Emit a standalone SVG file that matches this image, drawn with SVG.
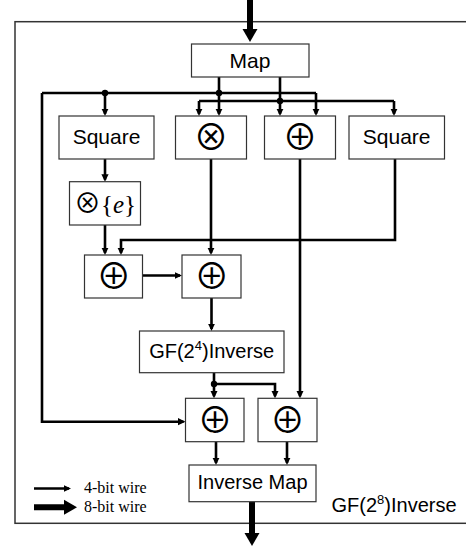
<svg xmlns="http://www.w3.org/2000/svg" width="466" height="552" viewBox="0 0 466 552">
<defs>
<style>
.box{fill:#fff;stroke:#333;stroke-width:1.2}
.t{font-family:"Liberation Sans",Arial,sans-serif;font-size:21px;fill:#000;text-anchor:middle}
.t2{font-size:20px}
.sym{font-family:"Noto Sans CJK SC","DejaVu Sans",sans-serif;font-size:35px;fill:#000;text-anchor:middle}
.w{fill:none;stroke:#000;stroke-width:2.6}
.wa{fill:none;stroke:#000;stroke-width:2.6;marker-end:url(#ah)}
.big{fill:none;stroke:#000;stroke-width:6;marker-end:url(#bh)}
.dot{fill:#000}
.leg{font-family:"Liberation Serif","Times New Roman",serif;font-size:16px;fill:#000}
</style>
<marker id="ah" markerUnits="userSpaceOnUse" markerWidth="8" markerHeight="8" viewBox="0 0 8 8" refX="5.5" refY="4" orient="auto">
<path d="M0,0.4 L7.5,4 L0,7.6 z" fill="#000"/>
</marker>
<marker id="bh" markerUnits="userSpaceOnUse" markerWidth="14" markerHeight="16" viewBox="0 0 14 16" refX="4" refY="8" orient="auto">
<path d="M0,0.5 L13,8 L0,15.5 z" fill="#000"/>
</marker>
</defs>
<rect x="0" y="0" width="466" height="552" fill="#fff"/>
<rect id="frame" x="15" y="21.7" width="470" height="501.6" fill="none" stroke="#333" stroke-width="1.5"/>

<g id="connectors">
<path class="big" d="M250,0 V33"/>
<path class="big" d="M252,502 V537"/>
<path class="w" d="M219,77 V93 M280,77 V101"/>
<path class="w" d="M42,93 H316 M199,101 H394"/>
<path class="wa" d="M105,93 V114"/>
<path class="wa" d="M219,93 V114"/>
<path class="wa" d="M316,93 V114"/>
<path class="wa" d="M199,101 V114"/>
<path class="wa" d="M280,101 V114"/>
<path class="wa" d="M394,101 V114"/>
<path class="wa" d="M42,93 V421.7 H183.5"/>
<path class="wa" d="M105,159 V179.7"/>
<path class="wa" d="M105,225 V253"/>
<path class="wa" d="M395,159 V240 H121 V253"/>
<path class="wa" d="M211,159 V253"/>
<path class="wa" d="M300,159 V396.3"/>
<path class="wa" d="M142.5,275.5 H180"/>
<path class="wa" d="M211.5,298 V329"/>
<path class="wa" d="M214,372.7 V396.3"/>
<path class="wa" d="M214,384 H275 V396.3"/>
<path class="wa" d="M216,441.7 V463"/>
<path class="wa" d="M287,441.7 V463"/>
<circle class="dot" cx="105" cy="93" r="3.2"/>
<circle class="dot" cx="219" cy="93" r="3.2"/>
<circle class="dot" cx="280" cy="101" r="3.2"/>
<circle class="dot" cx="214" cy="384" r="3.2"/>
</g>

<g id="map"><rect class="box" x="191.5" y="44" width="117.5" height="33"/><text class="t" x="250" y="67.5">Map</text></g>
<g id="square1"><rect class="box" x="59" y="116" width="95" height="43"/><text class="t" x="106.5" y="144">Square</text></g>
<g id="mul"><rect class="box" x="175.5" y="116" width="71" height="43"/><text class="sym" x="211" y="149.7">⊗</text></g>
<g id="add1"><rect class="box" x="264.5" y="116" width="71" height="43"/><text class="sym" x="300" y="149.7">⊕</text></g>
<g id="square2"><rect class="box" x="349" y="116" width="95.5" height="43"/><text class="t" x="396.7" y="144">Square</text></g>
<g id="mule"><rect class="box" x="69.5" y="181.7" width="71" height="43.3"/><text x="105" y="213" text-anchor="middle" font-size="25" fill="#000"><tspan font-family="Noto Sans CJK SC, DejaVu Sans, sans-serif" font-size="27">⊗</tspan><tspan font-family="Liberation Serif, serif">{</tspan><tspan font-family="Liberation Serif, serif" font-style="italic">e</tspan><tspan font-family="Liberation Serif, serif">}</tspan></text></g>
<g id="addA"><rect class="box" x="84.5" y="255" width="58" height="43"/><text class="sym" x="113.7" y="289">⊕</text></g>
<g id="addB"><rect class="box" x="182" y="255" width="59" height="43"/><text class="sym" x="211.7" y="289">⊕</text></g>
<g id="gf4"><rect class="box" x="139.5" y="331" width="144.5" height="41.7"/><text class="t t2" x="211.7" y="357.7">GF(2<tspan font-size="13" dy="-8">4</tspan><tspan dy="8">)Inverse</tspan></text></g>
<g id="addC"><rect class="box" x="185.5" y="398.3" width="58.5" height="43.4"/><text class="sym" x="215" y="433">⊕</text></g>
<g id="addD"><rect class="box" x="258" y="398.3" width="59" height="43.4"/><text class="sym" x="287.5" y="433">⊕</text></g>
<g id="invmap"><rect class="box" x="189" y="465" width="127" height="36.7"/><text class="t t2" x="252.5" y="488.7">Inverse Map</text></g>

<g id="legend">
<path fill="none" stroke="#000" stroke-width="2.6" d="M34,488.5 H69" marker-end="url(#ah)"/>
<path fill="none" stroke="#000" stroke-width="6" d="M34,507.3 H68" marker-end="url(#bh)"/>
<text class="leg" x="84" y="493.3">4-bit wire</text>
<text class="leg" x="84" y="512.3">8-bit wire</text>
</g>
<text id="title" class="t t2" x="331.5" y="511.7" style="text-anchor:start">GF(2<tspan font-size="13" dy="-8">8</tspan><tspan dy="8">)Inverse</tspan></text>
</svg>
